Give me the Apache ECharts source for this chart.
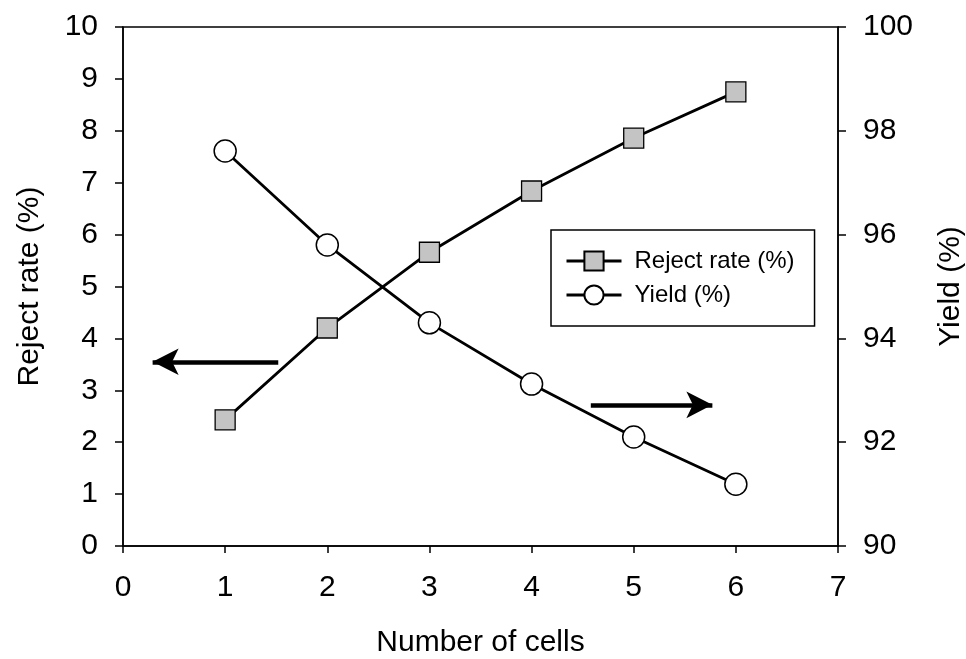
<!DOCTYPE html>
<html>
<head>
<meta charset="utf-8">
<script src="https://cdn.jsdelivr.net/npm/echarts@6/dist/echarts.min.js"></script>
<style>
html,body{margin:0;padding:0;background:#fff;}
#chart{width:966px;height:659px;}
</style>
</head>
<body>
<div id="chart"></div>
<script>
// ---- data ----
const cells = [1, 2, 3, 4, 5, 6];
const rejectRate = [2.43, 4.2, 5.66, 6.84, 7.86, 8.75];
const yieldPct = [97.61, 95.8, 94.3, 93.12, 92.1, 91.19];
// annotation arrows (data coords on left axis): [fromX, fromY, toX, toY]
const arrowLeft = [1.52, 3.55, 0.29, 3.55];
const arrowRight = [4.58, 2.72, 5.77, 2.72];

const FONT = 'Liberation Sans, Arial, sans-serif';
const chart = echarts.init(document.getElementById('chart'), null, { renderer: 'canvas' });

const option = {
  backgroundColor: '#fff',
  animation: false,
  grid: {
    left: 123, right: 128, top: 27, bottom: 113,
    containLabel: false, outerBoundsMode: 'none',
    show: true, borderColor: '#000', borderWidth: 1.5, backgroundColor: 'transparent'
  },
  legend: {
    orient: 'vertical',
    left: 551, top: 230,
    padding: [19, 20, 19, 14],
    itemGap: 10,
    itemWidth: 55,
    itemHeight: 24,
    borderColor: '#000',
    borderWidth: 1.5,
    backgroundColor: '#fff',
    lineStyle: { width: 3, color: '#000' },
    textStyle: { fontFamily: FONT, fontSize: 24, color: '#000', padding: [0, 0, 0, 8] },
    data: ['Reject rate (%)', 'Yield (%)']
  },
  xAxis: {
    type: 'value', min: 0, max: 7, interval: 1,
    name: 'Number of cells', nameLocation: 'middle', nameGap: 82,
    nameTextStyle: { fontFamily: FONT, fontSize: 30, color: '#000' },
    axisLine: { show: true, lineStyle: { color: '#000', width: 1.5 } },
    axisTick: { show: true, inside: false, length: 7, lineStyle: { color: '#000', width: 1.5 } },
    axisLabel: { fontFamily: FONT, fontSize: 30, color: '#000', margin: 27 },
    splitLine: { show: false }
  },
  yAxis: [
    {
      type: 'value', min: 0, max: 10, interval: 1, position: 'left',
      name: 'Reject rate (%)', nameLocation: 'middle', nameGap: 78, nameRotate: 90,
      nameTextStyle: { fontFamily: FONT, fontSize: 30, color: '#000' },
      axisLine: { show: true, lineStyle: { color: '#000', width: 1.5 } },
      axisTick: { show: true, inside: false, length: 8, lineStyle: { color: '#000', width: 1.5 } },
      axisLabel: { fontFamily: FONT, fontSize: 30, color: '#000', margin: 25 },
      splitLine: { show: false }
    },
    {
      type: 'value', min: 90, max: 100, interval: 2, position: 'right',
      name: 'Yield (%)', nameLocation: 'middle', nameGap: 98, nameRotate: 90,
      nameTextStyle: { fontFamily: FONT, fontSize: 30, color: '#000' },
      axisLine: { show: true, lineStyle: { color: '#000', width: 1.5 } },
      axisTick: { show: true, inside: false, length: 8, lineStyle: { color: '#000', width: 1.5 } },
      axisLabel: { fontFamily: FONT, fontSize: 30, color: '#000', margin: 25 },
      splitLine: { show: false }
    }
  ],
  series: [
    {
      name: 'Reject rate (%)',
      type: 'line',
      yAxisIndex: 0,
      data: cells.map((c, i) => [c, rejectRate[i]]),
      symbol: 'rect',
      symbolSize: 20,
      lineStyle: { color: '#000', width: 2.8 },
      itemStyle: { color: '#c4c4c4', borderColor: '#000', borderWidth: 1.3 },
      z: 3,
      markLine: {
        silent: true,
        symbol: ['none', 'arrow'],
        symbolSize: [20, 26],
        label: { show: false },
        lineStyle: { color: '#000', width: 4.5, type: 'solid' },
        data: [
          [{ coord: [arrowLeft[0], arrowLeft[1]] }, { coord: [arrowLeft[2], arrowLeft[3]] }],
          [{ coord: [arrowRight[0], arrowRight[1]] }, { coord: [arrowRight[2], arrowRight[3]] }]
        ]
      }
    },
    {
      name: 'Yield (%)',
      type: 'line',
      yAxisIndex: 1,
      data: cells.map((c, i) => [c, yieldPct[i]]),
      symbol: 'circle',
      symbolSize: 22,
      lineStyle: { color: '#000', width: 2.8 },
      itemStyle: { color: '#fff', borderColor: '#000', borderWidth: 1.5 },
      z: 4
    }
  ]
};
chart.setOption(option);
</script>
</body>
</html>
